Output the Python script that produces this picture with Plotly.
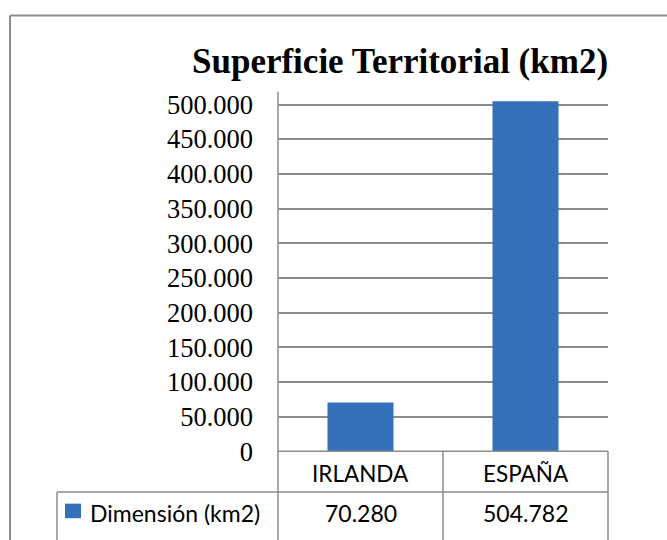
import plotly.graph_objects as go

# ---- data ----
categories = ["IRLANDA", "ESPAÑA"]
values = [70280, 504782]
series_name = "Dimensión (km2)"
title_text = "Superficie Territorial (km2)"
y_tick_values = [0, 50000, 100000, 150000, 200000, 250000, 300000, 350000, 400000, 450000, 500000]

W, H = 667, 540
GREY = "#8c8c8c"
BAR = "#3571bb"
SERIF = "Liberation Serif"
SANS = "Lato"


def px(x):
    return x / W


def py(y):
    return 1 - y / H


def fmt(v):
    return f"{v:,}".replace(",", ".")


fig = go.Figure()
fig.add_trace(go.Bar(
    x=categories, y=values, name=series_name,
    marker=dict(color=BAR, line=dict(width=0)),
    showlegend=False,
))

# plot area in screen pixels: x 278..608, y 93.4..464
x0, x1 = 278, 608
ytop, y0 = 93.4, 464
ymax = 500000 * (y0 - ytop) / (y0 - 106.7)

shapes = []


def line(xa, ya, xb, yb, w=1.5, c=GREY):
    shapes.append(dict(type="line", xref="paper", yref="paper",
                       x0=px(xa), y0=py(ya), x1=px(xb), y1=py(yb),
                       line=dict(color=c, width=w)))


# outer chart border
line(10, 15, 700, 15, w=2)
line(10, 15, 10, 600, w=2)
# data table lines
line(x0, y0, x1, y0)
line(57, 506, x1, 506)
line(x0, ytop, x0, 600)
line(443, y0, 443, 600)
line(x1, y0, x1, 600)
line(57, 506, 57, 600)
# legend key
shapes.append(dict(type="rect", xref="paper", yref="paper",
                   x0=px(65), x1=px(81), y0=py(533), y1=py(518),
                   fillcolor=BAR, line=dict(width=0)))

annotations = [
    dict(text=f"<b>{title_text}</b>", xref="paper", yref="paper",
         x=px(400), y=py(62), xanchor="center", yanchor="middle",
         showarrow=False, font=dict(family=SERIF, size=35, color="black")),
    dict(text=series_name, xref="paper", yref="paper",
         x=px(88), y=py(528), xanchor="left", yanchor="middle",
         showarrow=False, font=dict(family=SANS, size=23, color="black")),
]
for c, v in zip(categories, values):
    annotations.append(dict(text=c, xref="x", yref="paper", x=c, y=py(487),
                            xanchor="center", yanchor="middle", showarrow=False,
                            font=dict(family=SANS, size=22.5, color="black")))
    annotations.append(dict(text=fmt(v), xref="x", yref="paper", x=c, y=py(528),
                            xanchor="center", yanchor="middle", showarrow=False,
                            font=dict(family=SANS, size=23, color="black")))

fig.update_layout(
    width=W, height=H,
    margin=dict(l=0, r=0, t=0, b=0),
    paper_bgcolor="white", plot_bgcolor="white",
    separators=",.",
    bargap=0.6,
    showlegend=False,
    shapes=shapes,
    annotations=annotations,
    xaxis=dict(domain=[px(x0), px(x1)], showticklabels=False, showgrid=False,
               showline=False, zeroline=False, ticks=""),
    yaxis=dict(domain=[py(y0), py(ytop)], range=[0, ymax],
               tickvals=y_tick_values, tickformat=",d",
               showgrid=True, gridcolor=GREY, gridwidth=1.5,
               zeroline=False, showline=False, ticks="",
               ticklabelstandoff=24,
               tickfont=dict(family=SERIF, size=26.5, color="black")),
)

fig.write_html(
    "out.html",
    config={"displayModeBar": False},
    post_script="document.body.style.margin='0';document.body.style.overflow='hidden';",
)
